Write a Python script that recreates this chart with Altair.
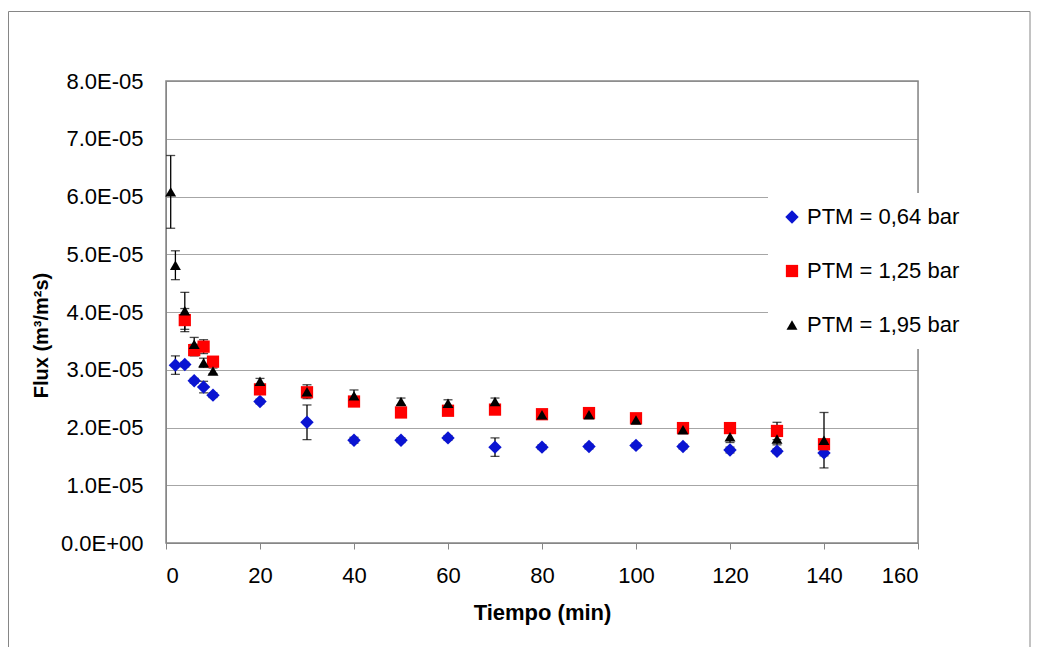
import altair as alt
import pandas as pd

series_names = ["PTM = 0,64 bar", "PTM = 1,25 bar", "PTM = 1,95 bar"]
series_colors = ["#0a14d2", "#ff0000", "#000000"]
series_shapes = ["diamond", "square", "triangle-up"]
series_sizes = [180, 120, 135]

# values in units of 1E-05 m3/m2s
t_blue = [2, 4, 6, 8, 10, 20, 30, 40, 50, 60, 70, 80, 90, 100, 110, 120, 130, 140]
flux_blue = [3.08, 3.09, 2.81, 2.70, 2.56, 2.45, 2.09, 1.78, 1.78, 1.82, 1.66, 1.66, 1.67, 1.69, 1.67, 1.61, 1.59, 1.56]
err_blue = [0.16, 0.04, 0.04, 0.10, 0.04, 0.04, 0.30, 0.05, 0.04, 0.04, 0.16, 0.04, 0.04, 0.04, 0.04, 0.05, 0.04, 0.05]

t_red = [4, 6, 8, 10, 20, 30, 40, 50, 60, 70, 80, 90, 100, 110, 120, 130, 140]
flux_red = [3.86, 3.34, 3.40, 3.14, 2.66, 2.61, 2.45, 2.26, 2.29, 2.31, 2.23, 2.25, 2.16, 1.99, 1.99, 1.94, 1.71]
err_red = [0.20, 0.10, 0.12, 0.05, 0.05, 0.05, 0.08, 0.05, 0.05, 0.05, 0.05, 0.05, 0.05, 0.05, 0.05, 0.15, 0.05]

t_black = [1, 2, 4, 6, 8, 10, 20, 30, 40, 50, 60, 70, 80, 90, 100, 110, 120, 130, 140]
flux_black = [6.08, 4.81, 4.02, 3.44, 3.12, 2.98, 2.80, 2.62, 2.55, 2.45, 2.42, 2.45, 2.22, 2.22, 2.13, 1.96, 1.84, 1.80, 1.78]
err_black = [0.63, 0.25, 0.32, 0.12, 0.08, 0.05, 0.05, 0.12, 0.10, 0.06, 0.06, 0.06, 0.05, 0.05, 0.05, 0.05, 0.10, 0.10, 0.48]

y_ticks = [0, 1, 2, 3, 4, 5, 6, 7, 8]
x_ticks = [0, 20, 40, 60, 80, 100, 120, 140, 160]

rows = []
for name, ts, fs, es in [
    (series_names[0], t_blue, flux_blue, err_blue),
    (series_names[1], t_red, flux_red, err_red),
    (series_names[2], t_black, flux_black, err_black),
]:
    for t, f, e in zip(ts, fs, es):
        rows.append({"series": name, "t": t, "flux": f * 1e-5,
                     "lo": (f - e) * 1e-5, "hi": (f + e) * 1e-5})
df = pd.DataFrame(rows)

FONT = "Liberation Sans"
W, H = 752, 462

xscale = alt.Scale(domain=[0, 160], nice=False, zero=False)
yscale = alt.Scale(domain=[0, 8e-5], nice=False)

xaxis = alt.Axis(values=x_ticks, title="Tiempo (min)", grid=False, tickSize=6,
                 tickColor="#868686", domainColor="#868686", labelFont=FONT,
                 labelFontSize=22, labelColor="black", labelPadding=16,
                 titleFont=FONT, titleFontSize=22, titleFontWeight="bold",
                 titleColor="black", titleY=59, titleBaseline="top")
yaxis = alt.Axis(values=[v * 1e-5 for v in y_ticks],
                 labelExpr="datum.value == 0 ? '0.0E+00' : format(datum.value*1e5, '.1f') + 'E-05'",
                 title="Flux (m³/m²s)", grid=True, gridColor="#a6a6a6", gridWidth=1.2,
                 ticks=False, tickSize=0, domainColor="#868686", labelFont=FONT,
                 labelFontSize=22, labelColor="black", labelPadding=23,
                 titleFont=FONT, titleFontSize=20, titleFontWeight="bold",
                 titleColor="black", titleX=-115, titleY=254)

frame_df = pd.DataFrame({"k": [0]})
outer = alt.Chart(frame_df).mark_rect(fill=None, stroke="#868686", strokeWidth=1).encode(
    x=alt.value(-157.5), x2=alt.value(864), y=alt.value(-69.5), y2=alt.value(567))
plotbox = alt.Chart(frame_df).mark_rect(fill=None, stroke="#868686", strokeWidth=1.5).encode(
    x=alt.value(0), x2=alt.value(W), y=alt.value(0), y2=alt.value(H))

base = alt.Chart(df)
rules = base.mark_rule(color="black", strokeWidth=1.3).encode(
    x=alt.X("t:Q", scale=xscale, axis=xaxis),
    y=alt.Y("lo:Q", scale=yscale, axis=yaxis), y2="hi:Q")
cap_lo = base.mark_tick(orient="horizontal", color="black", size=9, thickness=1.3).encode(
    x=alt.X("t:Q", scale=xscale, axis=xaxis), y=alt.Y("lo:Q", scale=yscale, axis=yaxis))
cap_hi = base.mark_tick(orient="horizontal", color="black", size=9, thickness=1.3).encode(
    x=alt.X("t:Q", scale=xscale, axis=xaxis), y=alt.Y("hi:Q", scale=yscale, axis=yaxis))

legend = alt.Legend(title=None, orient="none", legendX=602, legendY=112,
                    fillColor="white", padding=13, rowPadding=32,
                    labelFont=FONT, labelFontSize=22, labelColor="black",
                    labelOffset=4, symbolStrokeWidth=0)
points = base.mark_point(filled=True, opacity=1, strokeWidth=0).encode(
    x=alt.X("t:Q", scale=xscale, axis=xaxis),
    y=alt.Y("flux:Q", scale=yscale, axis=yaxis),
    color=alt.Color("series:N", scale=alt.Scale(domain=series_names, range=series_colors), legend=legend),
    shape=alt.Shape("series:N", scale=alt.Scale(domain=series_names, range=series_shapes), legend=legend),
    size=alt.Size("series:N", scale=alt.Scale(domain=series_names, range=series_sizes), legend=legend),
)

chart = alt.layer(outer, plotbox, rules, cap_lo, cap_hi, points).properties(
    width=W, height=H,
    autosize=alt.AutoSizeParams(type="none"),
    padding={"left": 158, "top": 73, "right": 113, "bottom": 104},
).configure_view(stroke=None).configure(background="white")

chart.save("out.html", embed_options={"renderer": "svg", "actions": False})
